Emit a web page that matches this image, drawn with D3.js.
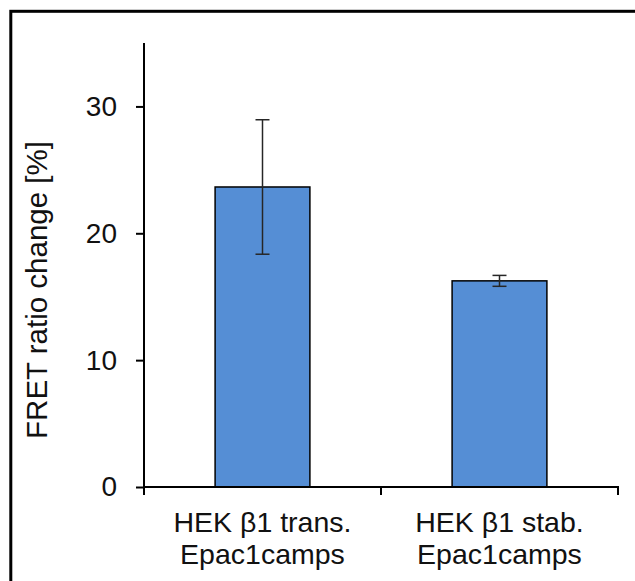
<!DOCTYPE html>
<html>
<head>
<meta charset="utf-8">
<script src="https://cdn.jsdelivr.net/npm/d3@7"></script>
<style>
  html, body { margin: 0; padding: 0; background: #fff; }
  svg { display: block; }
  text { font-family: "Liberation Sans", Arial, sans-serif; fill: #111; }
</style>
</head>
<body>
<svg id="chart" width="635" height="581"></svg>
<script>
// FRET ratio change per cell line (mean ± error)
const categories = [["HEK β1 trans.", "Epac1camps"], ["HEK β1 stab.", "Epac1camps"]];
const means = [23.65, 16.25];
const errors = [5.3, 0.43];
const yTicks = [0, 10, 20, 30];
const yLabel = "FRET ratio change [%]";

const svg = d3.select("#chart");

// outer frame (right and bottom edges run past the canvas)
svg.append("rect")
  .attr("x", 10.8).attr("y", 11.3)
  .attr("width", 800).attr("height", 800)
  .attr("fill", "none").attr("stroke", "#000").attr("stroke-width", 3);

const plot = { left: 144, right: 618, top: 43, bottom: 487 };

const x = d3.scaleBand()
  .domain(d3.range(categories.length))
  .range([plot.left, plot.right])
  .paddingInner(0)
  .paddingOuter(0);

const y = d3.scaleLinear().domain([0, 35]).range([plot.bottom, plot.top]);

const barW = x.bandwidth() * 0.4;

// bars
svg.append("g").selectAll("rect")
  .data(means)
  .join("rect")
  .attr("x", (d, i) => x(i) + (x.bandwidth() - barW) / 2)
  .attr("y", d => y(d))
  .attr("width", barW)
  .attr("height", d => y(0) - y(d))
  .attr("fill", "#558ed5")
  .attr("stroke", "#000")
  .attr("stroke-width", 1.5);

// error bars
const eg = svg.append("g").attr("stroke", "#262626").attr("stroke-width", 1.5);
means.forEach((m, i) => {
  const cx = x(i) + x.bandwidth() / 2;
  eg.append("line").attr("x1", cx).attr("x2", cx)
    .attr("y1", y(m + errors[i])).attr("y2", y(m - errors[i]));
  [m + errors[i], m - errors[i]].forEach(v => {
    eg.append("line").attr("x1", cx - 7).attr("x2", cx + 7)
      .attr("y1", y(v)).attr("y2", y(v));
  });
});

// y axis
const yAxis = d3.axisLeft(y).tickValues(yTicks).tickSize(8).tickPadding(19).tickFormat(d3.format("d"));
const gy = svg.append("g").attr("transform", `translate(${plot.left},0)`).call(yAxis);
gy.select(".domain").attr("d", `M0,${plot.top}V${plot.bottom + 8}`).attr("stroke-width", 2);
gy.selectAll(".tick line").attr("stroke-width", 2);
gy.selectAll(".tick text").attr("font-size", 28).attr("font-family", "Liberation Sans, Arial, sans-serif").attr("fill", "#111");

// x axis: straight line with boundary ticks pointing down
const xEdges = d3.range(categories.length + 1).map(i => plot.left + i * x.bandwidth());
const gx = svg.append("g").attr("stroke", "#000").attr("stroke-width", 2);
gx.append("line").attr("x1", plot.left).attr("x2", plot.right + 1)
  .attr("y1", plot.bottom).attr("y2", plot.bottom);
xEdges.forEach(px => {
  gx.append("line").attr("x1", px).attr("x2", px)
    .attr("y1", plot.bottom).attr("y2", plot.bottom + 8);
});

// category labels
const cl = svg.append("g").attr("text-anchor", "middle").attr("font-size", 28.5);
categories.forEach((lines, i) => {
  const t = cl.append("text").attr("x", x(i) + x.bandwidth() / 2).attr("y", 532);
  lines.forEach((s, k) => {
    t.append("tspan").attr("x", x(i) + x.bandwidth() / 2).attr("dy", k === 0 ? 0 : 32).text(s);
  });
});

// y axis title
svg.append("text")
  .attr("transform", "translate(47,290) rotate(-90)")
  .attr("text-anchor", "middle")
  .attr("font-size", 29.5)
  .text(yLabel);
</script>
</body>
</html>
